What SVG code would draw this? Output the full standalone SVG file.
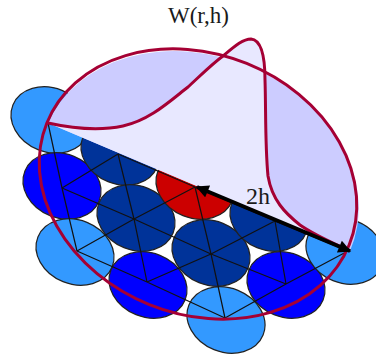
<svg xmlns="http://www.w3.org/2000/svg" width="376" height="356" viewBox="0 0 376 356">
<style>
.c{stroke:#222;stroke-width:1.2}
.l{fill:#3399ff}.b{fill:#0000ff}.d{fill:#003399}.r{fill:#cc0000}
.g{stroke:#111;stroke-width:1.2;fill:none}
.t{font-family:"Liberation Serif","Times New Roman",serif;fill:#1a1a1a}
.w{stroke:#a50034;stroke-width:3;fill:none}
</style>
<defs>
<marker id="ah" viewBox="0 0 10 10" refX="9" refY="5" markerWidth="3.6" markerHeight="3.2" orient="auto-start-reverse"><path d="M0 0L10 5L0 10Z" fill="#000"/></marker>
</defs>
<rect width="376" height="356" fill="#fff"/>
<g id="cells">
<ellipse id="n1" class="c l" cx="50" cy="120" rx="40" ry="32" transform="rotate(22 50 120)"/>
<ellipse id="n2" class="c b" cx="62" cy="186" rx="40" ry="32" transform="rotate(22 62 186)"/>
<ellipse id="n3" class="c d" cx="120" cy="152" rx="40" ry="32" transform="rotate(22 120 152)"/>
<ellipse id="n4" class="c d" cx="136" cy="218" rx="40" ry="32" transform="rotate(22 136 218)"/>
<ellipse id="n5" class="c r" cx="195" cy="186" rx="40" ry="32" transform="rotate(22 195 186)"/>
<ellipse id="n6" class="c l" cx="75" cy="252" rx="40" ry="32" transform="rotate(22 75 252)"/>
<ellipse id="n7" class="c b" cx="148" cy="285" rx="40" ry="32" transform="rotate(22 148 285)"/>
<ellipse id="n8" class="c d" cx="211" cy="253" rx="40" ry="32" transform="rotate(22 211 253)"/>
<ellipse id="n9" class="c d" cx="269" cy="218" rx="40" ry="32" transform="rotate(22 269 218)"/>
<ellipse id="n10" class="c b" cx="286" cy="285" rx="40" ry="32" transform="rotate(22 286 285)"/>
<ellipse id="n11" class="c l" cx="345" cy="251" rx="40" ry="32" transform="rotate(22 345 251)"/>
<ellipse id="n12" class="c l" cx="226" cy="320" rx="40" ry="32" transform="rotate(22 226 320)"/>
</g>
<g id="connectors">
<path class="g" d="M62 188L134 219L211 254L286 284M77 251L147 282L225 318M118 154L195 187L275 221L348 251M48 123L62 188L77 251M118 154L134 219L147 282M195 187L211 254L225 318M275 221L286 284M62 188L118 154M77 251L134 219L195 187M147 282L211 254L275 221M225 318L286 284L348 251"/>
</g>
<g id="kernel">
<path fill="#ccccff" d="M48 123A163 130 22 0 1 350 251Z"/>
<path fill="#e8e8ff" d="M48 123C75 129 100 131 123 126C150 120 170 101 188 87C200 76 212 64 223 56C235 46 243 39 251 39C262 40 265 60 265 80C266 110 265 145 268 176C272 200 285 213 300 225C316 236 333 243 350 251Z"/>
<ellipse class="w" cx="198" cy="184" rx="163" ry="130" transform="rotate(22 198 184)"/>
<path class="w" d="M48 123C75 129 100 131 123 126C150 120 170 101 188 87C200 76 212 64 223 56C235 46 243 39 251 39C262 40 265 60 265 80C266 110 265 145 268 176C272 200 285 213 300 225C316 236 333 243 350 251"/>
</g>
<g id="radius">
<path d="M197 187L350 251" stroke="#000" stroke-width="4" fill="none" marker-start="url(#ah)" marker-end="url(#ah)"/>
<text class="t" x="246" y="204" font-size="24">2h</text>
</g>
<text id="title" class="t" x="168" y="23" font-size="23">W(r,h)</text>
</svg>
